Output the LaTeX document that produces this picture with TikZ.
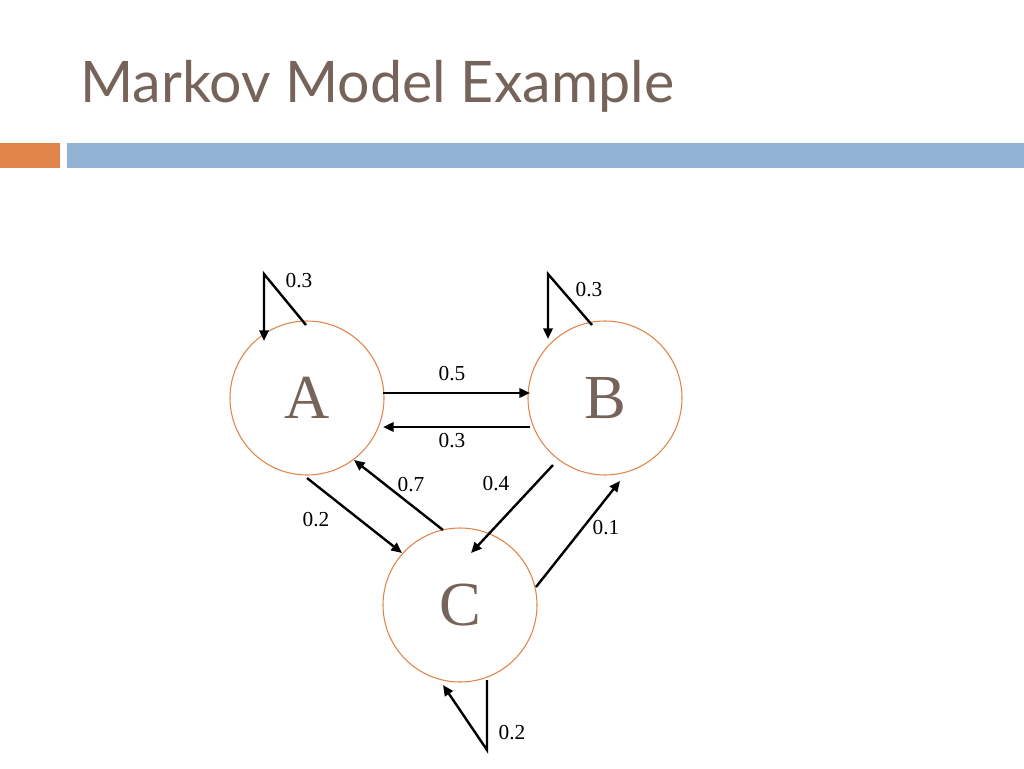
\documentclass[tikz,border=0pt]{standalone}
\usepackage{fontspec}
\setmainfont{Liberation Serif}
\newfontfamily\titlefont{Lato}
\usetikzlibrary{arrows.meta}
\definecolor{ttl}{HTML}{76645A}
\definecolor{orng}{HTML}{E0844A}
\definecolor{blu}{HTML}{93B3D5}
\begin{document}
\begin{tikzpicture}[x=0.75pt,y=-0.75pt,
  st/.style={circle,draw=orng,line width=0.8pt,minimum size=115.5pt,inner sep=0pt,text=ttl,font=\fontsize{47}{47}\selectfont},
  lb/.style={font=\fontsize{16}{16}\selectfont,inner sep=1pt},
  ar/.style={line width=1.8pt,-{Triangle[length=8pt,width=7pt]}}]
\useasboundingbox (0,0) rectangle (1024,768);
\node[anchor=base west,text=ttl,font=\titlefont\fontsize{43}{43}\selectfont,inner sep=0pt] (title) at (80,102) {Markov Model Example};
\fill[orng] (0,143) rectangle (60,168);
\fill[blu] (67,143) rectangle (1024,168);
\node[st] (A) at (307,398) {A};
\node[st] (B) at (605,398) {B};
\node[st] (C) at (460,605) {C};
\coordinate (a1) at (383,393); \coordinate (b1) at (530,393);
\coordinate (b2) at (530,427); \coordinate (a2) at (383,427);
\draw[ar] (a1) -- (b1); \draw[ar] (b2) -- (a2);
\node[lb] (l1) at (452,374) {0.5};
\node[lb] (l2) at (452,441) {0.3};
\coordinate (a3) at (307,478); \coordinate (c3) at (402,553);
\coordinate (c4) at (443,530); \coordinate (a4) at (354,460);
\coordinate (b5) at (553,465); \coordinate (c5) at (471,553);
\coordinate (c6) at (536,587); \coordinate (b6) at (620,481);
\draw[ar] (a3) -- (c3); \draw[ar] (c4) -- (a4);
\draw[ar] (b5) -- (c5); \draw[ar] (c6) -- (b6);
\node[lb] (l3) at (316,520) {0.2};
\node[lb] (l4) at (411,485) {0.7};
\node[lb] (l5) at (496,484) {0.4};
\node[lb] (l6) at (606,528) {0.1};
\coordinate (sa1) at (306,325); \coordinate (sa2) at (264,274); \coordinate (sa3) at (264,341);
\draw[ar] (sa1) -- (sa2) -- (sa3);
\node[lb] (l7) at (299,281) {0.3};
\coordinate (sb1) at (592,325); \coordinate (sb2) at (548,274); \coordinate (sb3) at (548,339);
\draw[ar] (sb1) -- (sb2) -- (sb3);
\node[lb] (l8) at (589,290) {0.3};
\coordinate (sc1) at (487,680); \coordinate (sc2) at (487,750); \coordinate (sc3) at (443,685);
\draw[ar] (sc1) -- (sc2) -- (sc3);
\node[lb] (l9) at (512,733) {0.2};
\end{tikzpicture}
\end{document}
